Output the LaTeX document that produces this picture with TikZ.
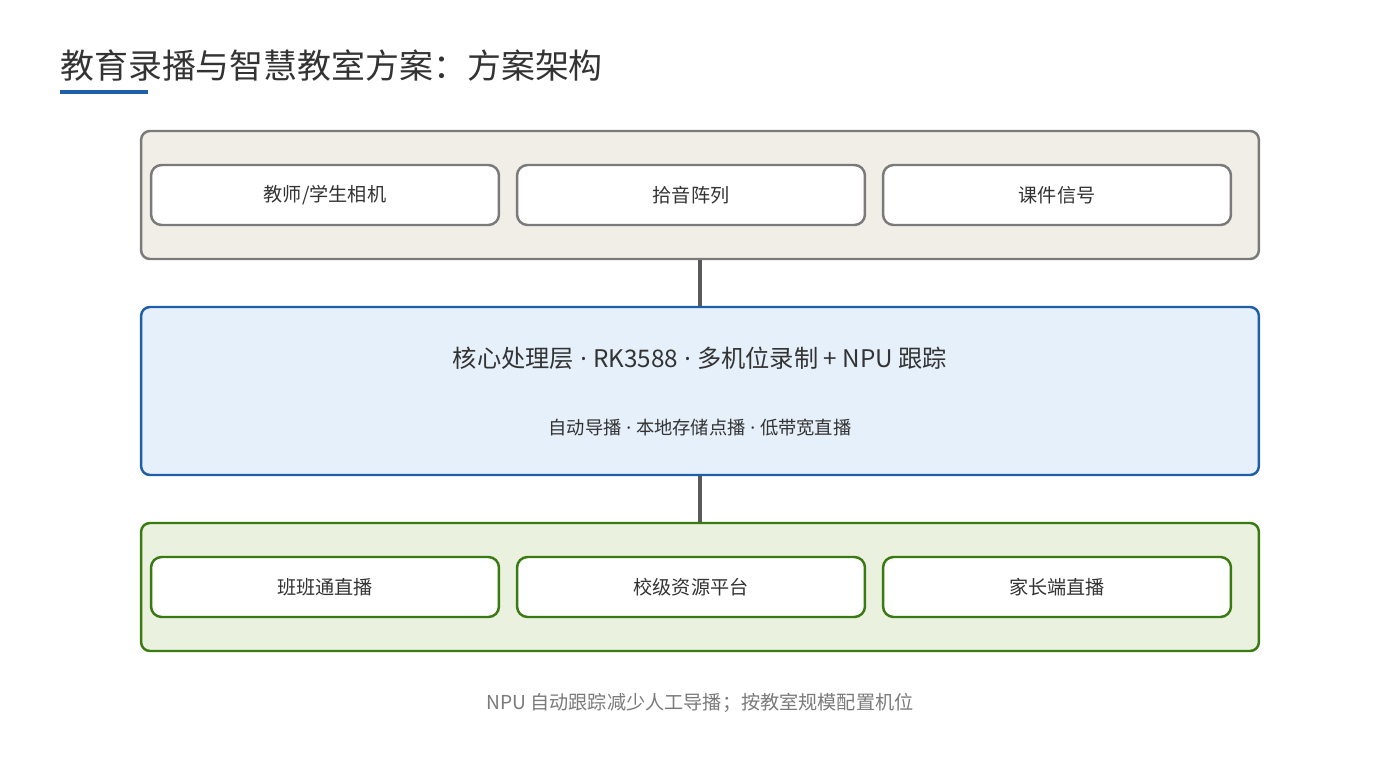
\documentclass[tikz,border=0pt]{standalone}
\usepackage{fontspec}
\setmainfont{Noto Sans CJK SC}
\newfontfamily\latinfont{Noto Sans}
\newcommand{\mdot}{{\latinfont\ ·\ }}
\usetikzlibrary{positioning}
\definecolor{layergray}{HTML}{7A7A7A}
\definecolor{layerbeige}{HTML}{F1EEE7}
\definecolor{coreblue}{HTML}{1F5FA8}
\definecolor{corefill}{HTML}{E6F0FA}
\definecolor{outgreen}{HTML}{3A7A12}
\definecolor{outfill}{HTML}{EAF2DF}
\definecolor{linkgray}{HTML}{5A5A5A}
\definecolor{txtgray}{HTML}{333333}
\begin{document}
\begin{tikzpicture}[x=0.02cm,y=-0.02cm]
  \tikzstyle{lnode} = [draw, line width=1.4pt, rounded corners=5pt, minimum width=22.36cm, minimum height=2.56cm, inner sep=0pt]
  \tikzstyle{bnode} = [draw, fill=white, line width=1.4pt, rounded corners=6pt, minimum width=6.96cm, minimum height=1.2cm, inner sep=0pt, font=\fontsize{10.9}{13}\selectfont, text=txtgray]
  \tikzstyle{link} = [draw=linkgray, line width=1.8pt]
  \useasboundingbox (0,0) rectangle (1400,760);
  % title
  \node[anchor=west, text=txtgray, font=\fontsize{19.3}{23}\selectfont, inner sep=0pt] (title) at (60,65) {教育录播与智慧教室方案：方案架构};
  \fill[coreblue] (60,90) rectangle (148,94);
  % input layer
  \node[lnode, draw=layergray, fill=layerbeige] (in) at (700,195) {};
  \node[bnode, draw=layergray] (in1) at (325,195) {教师/学生相机};
  \node[bnode, draw=layergray] (in2) at (691,195) {拾音阵列};
  \node[bnode, draw=layergray] (in3) at (1057,195) {课件信号};
  % core layer
  \node[lnode, draw=coreblue, fill=corefill, minimum height=3.36cm] (core) at (700,391) {};
  \node[text=txtgray, font=\fontsize{13.8}{16}\selectfont] (coret) at (700,358) {核心处理层\mdot RK3588\mdot 多机位录制 + NPU 跟踪};
  \node[text=txtgray, font=\fontsize{10.4}{12}\selectfont] (cores) at (700,428) {自动导播\mdot 本地存储点播\mdot 低带宽直播};
  % output layer
  \node[lnode, draw=outgreen, fill=outfill] (out) at (700,587) {};
  \node[bnode, draw=outgreen] (out1) at (325,587) {班班通直播};
  \node[bnode, draw=outgreen] (out2) at (691,587) {校级资源平台};
  \node[bnode, draw=outgreen] (out3) at (1057,587) {家长端直播};
  % links
  \draw[link] (in.south) -- (core.north);
  \draw[link] (core.south) -- (out.north);
  % note
  \node[text=layergray, font=\fontsize{10.9}{13}\selectfont] (note) at (700,703) {NPU 自动跟踪减少人工导播；按教室规模配置机位};
\end{tikzpicture}
\end{document}
